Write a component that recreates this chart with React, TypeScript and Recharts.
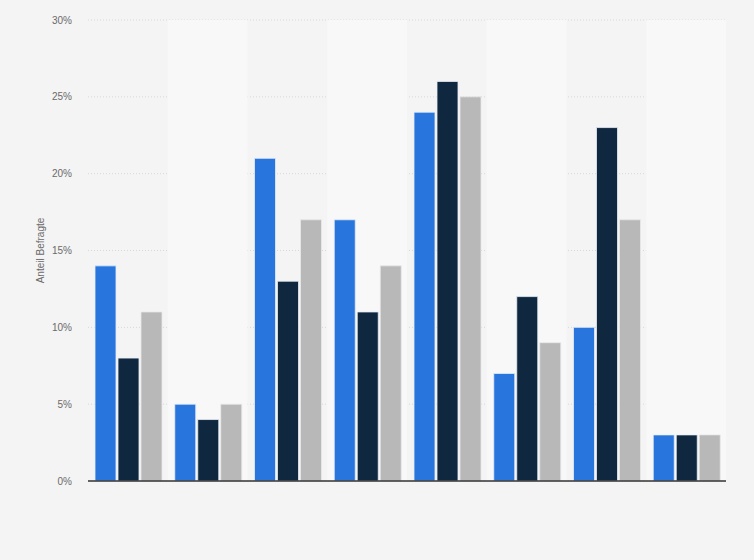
import React from 'react';
import { BarChart, Bar, XAxis, YAxis, CartesianGrid, ReferenceArea } from 'recharts';

const categories = ['Kategorie 1', 'Kategorie 2', 'Kategorie 3', 'Kategorie 4', 'Kategorie 5', 'Kategorie 6', 'Kategorie 7', 'Kategorie 8'];
const series1 = [14, 5, 21, 17, 24, 7, 10, 3];
const series2 = [8, 4, 13, 11, 26, 12, 23, 3];
const series3 = [11, 5, 17, 14, 25, 9, 17, 3];
const yTicks = [0, 5, 10, 15, 20, 25, 30];

const data = categories.map((c, i) => ({ name: c, s1: series1[i], s2: series2[i], s3: series3[i] }));

const tickStyle = { fill: '#6a6a6a', fontSize: 10, fontFamily: 'Liberation Sans, Arial, sans-serif' };

export default function App() {
  return (
    <div style={{ position: 'absolute', left: 0, top: 0, width: 754, height: 560, background: '#f4f4f4' }}>
      <BarChart
        width={754}
        height={560}
        data={data}
        margin={{ top: 20, right: 28, bottom: 49, left: 0 }}
        barCategoryGap={7}
        barGap={2}
      >
        {categories.map((c, i) =>
          i % 2 === 1 ? (
            <ReferenceArea key={c} x1={c} x2={c} fill="#f8f8f8" fillOpacity={1} stroke="none" ifOverflow="visible" />
          ) : null
        )}
        <CartesianGrid vertical={false} stroke="#d8d8d8" strokeDasharray="1 2" />
        <XAxis
          dataKey="name"
          tick={false}
          tickLine={false}
          axisLine={{ stroke: '#333', strokeWidth: 1.5 }}
          height={30}
        />
        <YAxis
          domain={[0, 30]}
          ticks={yTicks}
          tickFormatter={(v: number) => `${v}%`}
          tick={tickStyle}
          tickLine={false}
          axisLine={false}
          tickSize={0}
          tickMargin={16}
          width={88}
          label={{ value: 'Anteil Befragte', angle: -90, position: 'insideLeft', offset: 40, style: { ...tickStyle, textAnchor: 'middle' } }}
        />
        <Bar dataKey="s1" fill="#2876dd" stroke="#e8eef6" strokeWidth={0.8} isAnimationActive={false} />
        <Bar dataKey="s2" fill="#0f2840" stroke="#e8eef6" strokeWidth={0.8} isAnimationActive={false} />
        <Bar dataKey="s3" fill="#b8b8b8" stroke="#e8e8e8" strokeWidth={0.8} isAnimationActive={false} />
      </BarChart>
    </div>
  );
}
